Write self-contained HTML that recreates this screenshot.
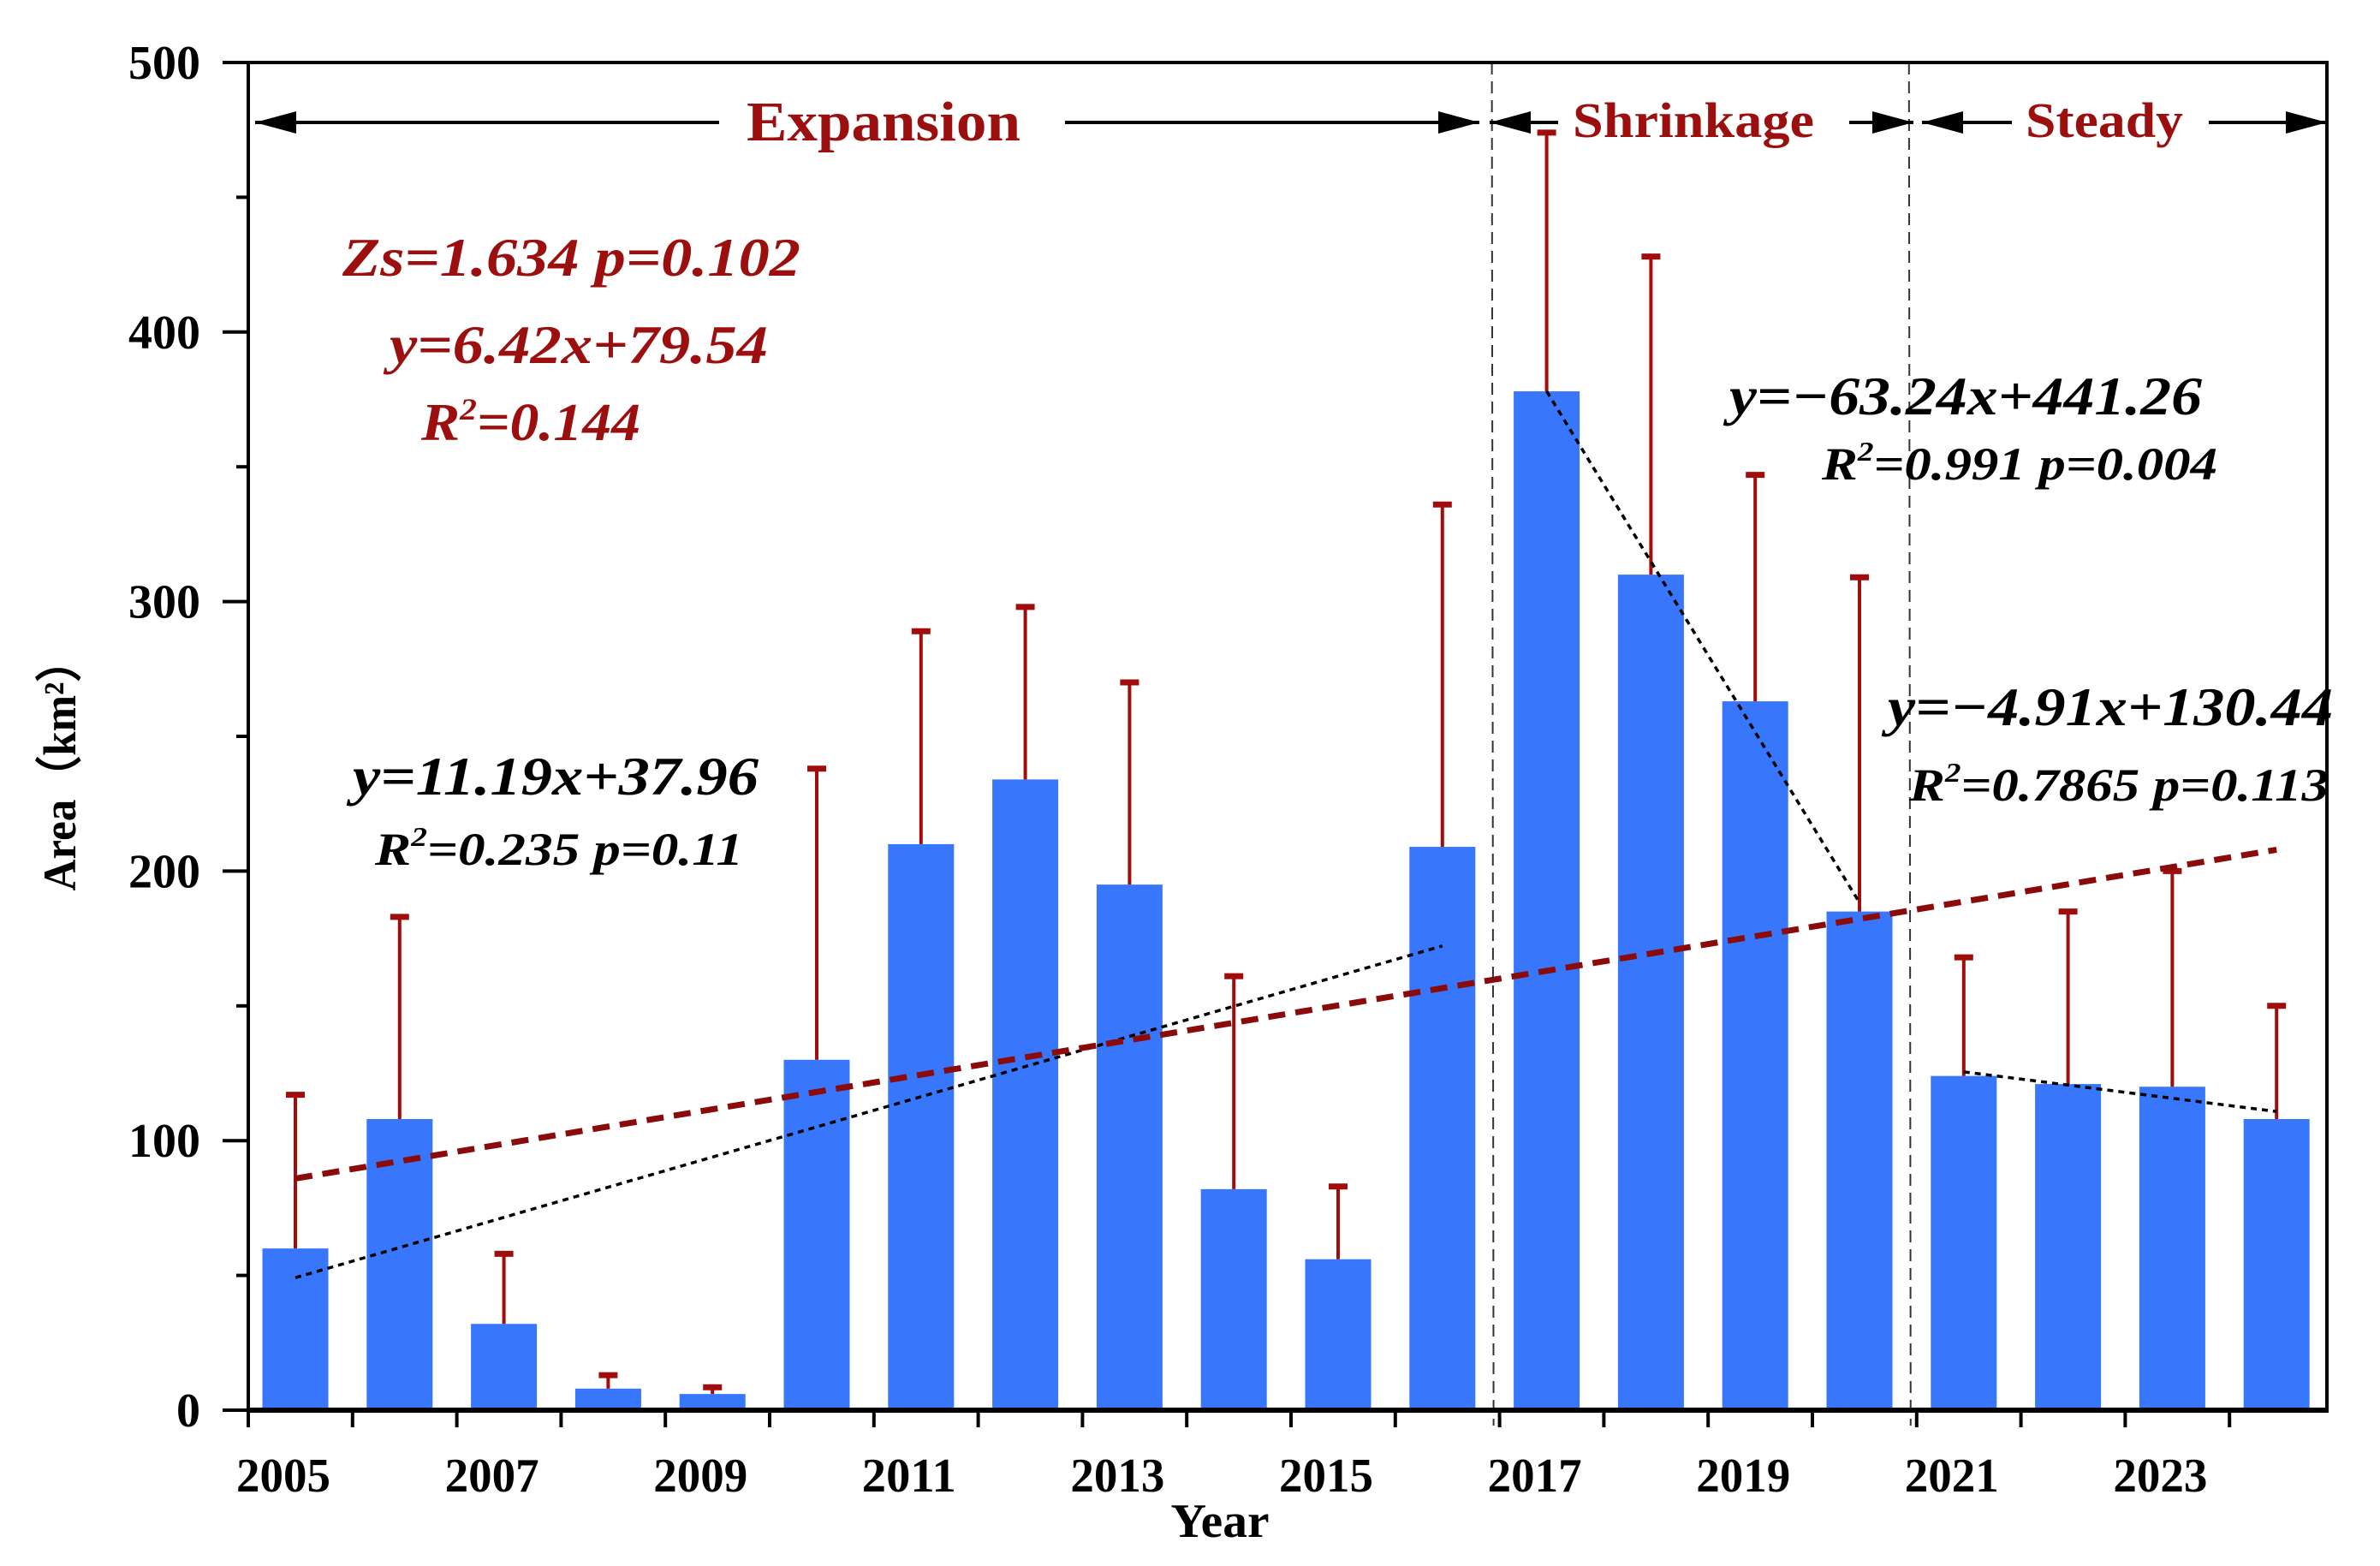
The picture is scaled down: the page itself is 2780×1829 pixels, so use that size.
<!DOCTYPE html>
<html><head><meta charset="utf-8"><style>
html,body{margin:0;padding:0;background:#fff}
svg{display:block}
text{font-family:"Liberation Serif",serif;font-weight:bold}
</style></head><body>
<svg id="chart" width="2780" height="1829" viewBox="0 0 2780 1829" xmlns="http://www.w3.org/2000/svg">
<g id="plot"></g>
</svg>
<script>
const years = [2005,2006,2007,2008,2009,2010,2011,2012,2013,2014,2015,2016,2017,2018,2019,2020,2021,2022,2023,2024];
const areas = [60,108,32,8,6,130,210,234,195,82,56,209,378,310,263,185,124,121,120,108];
const errTops = [117,183,58,13,8.5,238,289,298,270,161,83,336,474,428,347,309,168,185,200,150];
const yTicks = [0,100,200,300,400,500];
const xLabels = ["2005","2007","2009","2011","2013","2015","2017","2019","2021","2023"];
const overallTrend = {slope:6.42, intercept:79.54, from:1, to:20};
const expansionTrend = {slope:11.19, intercept:37.96, from:1, to:12};
const shrinkTrend = {slope:-63.24, intercept:441.26, from:1, to:4, offset:12};
const steadyTrend = {slope:-4.91, intercept:130.44, from:1, to:4, offset:16};

const NS="http://www.w3.org/2000/svg";
const g=document.getElementById('plot');
const X0=290, STEP=121.8, XR=2718, Y0=1647, K=3.148;
const yS=v=>Y0-K*v;
const xC=i=>345+STEP*i;
const xB=k=>X0+STEP*k;
function mk(tag,attrs,parent){const e=document.createElementNS(NS,tag);for(const a in attrs)e.setAttribute(a,attrs[a]);(parent||g).appendChild(e);return e;}

areas.forEach((v,i)=>{
  const r=mk('rect',{x:xC(i)-38.5,y:yS(v),width:77,height:Y0-yS(v),fill:'#3877fb'});
  
  
});
errTops.forEach((v,i)=>{
  const eg=mk('g',{stroke:'#a10d0d','stroke-width':4});
  
  
  mk('line',{x1:xC(i),x2:xC(i),y1:yS(areas[i]),y2:yS(v)},eg);
  mk('line',{x1:xC(i)-11,x2:xC(i)+11,y1:yS(v),y2:yS(v),'stroke-width':7},eg);
});
function trend(t,name,color,w,dash){
  const off=t.offset||0;
  const l=mk('line',{x1:xC(off+t.from-1),y1:yS(t.slope*t.from+t.intercept),x2:xC(off+t.to-1),y2:yS(t.slope*t.to+t.intercept),stroke:color,'stroke-width':w,'stroke-dasharray':dash});
  
  
}
trend(expansionTrend,'expansion-trend-line','#000',3.5,'7 6');
trend(shrinkTrend,'shrinkage-trend-line','#000',3.5,'7 6');
trend(steadyTrend,'steady-trend-line','#000',3.5,'7 6');
trend(overallTrend,'overall-trend-line','#8b0a0a',7,'20 12');

[12,16].forEach(k=>{
  const l=mk('line',{x1:xB(k)-9,x2:xB(k)-7,y1:73,y2:1665,stroke:'#333','stroke-width':2,'stroke-dasharray':'14 8'});
  
  
});

const ax=mk('g',{stroke:'#000'});


mk('line',{x1:X0,x2:X0,y1:73,y2:Y0,'stroke-width':4},ax);
mk('line',{x1:X0-2,x2:XR+2,y1:73,y2:73,'stroke-width':4},ax);
mk('line',{x1:XR,x2:XR,y1:73,y2:Y0,'stroke-width':4},ax);
mk('line',{x1:X0-2,x2:XR+2,y1:Y0,y2:Y0,'stroke-width':6},ax);
yTicks.forEach(v=>{mk('line',{x1:X0-30,x2:X0,y1:yS(v),y2:yS(v),'stroke-width':4},ax);
  if(v<500) mk('line',{x1:X0-14,x2:X0,y1:yS(v+50),y2:yS(v+50),'stroke-width':4},ax);});
for(let k=0;k<=19;k++) mk('line',{x1:xB(k),x2:xB(k),y1:Y0,y2:Y0+20,'stroke-width':4},ax);

yTicks.forEach(v=>{const s=String(v);const t=mk('text',{x:234,y:yS(v)+19,'text-anchor':'end','font-size':56,textLength:28*s.length,lengthAdjust:'spacingAndGlyphs'});t.textContent=s;
  
  });
xLabels.forEach((s,j)=>{const t=mk('text',{x:xC(2*j)-14,y:1742,'text-anchor':'middle','font-size':56,textLength:110,lengthAdjust:'spacingAndGlyphs'});t.textContent=s;
  
  });

function txt(x,y,s,size,color,name,len,anchor,italic){
  const t=mk('text',{x:x,y:y,'font-size':size,fill:color,'text-anchor':anchor||'start'});
  if(italic) t.setAttribute('font-style','italic');
  if(len){t.setAttribute('textLength',len);t.setAttribute('lengthAdjust','spacingAndGlyphs');}
  t.innerHTML=s;
  
  
  return t;
}
txt(1425,1795,'Year',56,'#000','x-axis-title',115,'middle');
const yt=txt(0,0,'Area（km²）',54,'#000','y-axis-title',295,'middle');
yt.setAttribute('transform','translate(88,893) rotate(-90)');
yt.setAttribute('font-family','"Liberation Serif","Noto Serif CJK SC",serif');

const red='#9b0f0f';
txt(1032,164,'Expansion',66,red,'expansion-label',320,'middle');
txt(1978,160,'Shrinkage',58,red,'shrinkage-label',282,'middle');
txt(2458,160,'Steady',58,red,'steady-label',184,'middle');
function arrow(x1,x2,dir,name){
  const ag=mk('g',{});
  
  
  const y=143;
  mk('line',{x1:x1,x2:x2,y1:y,y2:y,stroke:'#000','stroke-width':4},ag);
  const tip=dir<0?x1:x2;
  mk('polygon',{points:`${tip},${y} ${tip-dir*48},${y-13} ${tip-dir*48},${y+13}`,fill:'#000'},ag);
}
arrow(298,840,-1,'expansion-left-arrow');
arrow(1244,1728,1,'expansion-right-arrow');
arrow(1740,1820,-1,'shrinkage-left-arrow');
arrow(2160,2235,1,'shrinkage-right-arrow');
arrow(2245,2350,-1,'steady-left-arrow');
arrow(2580,2718,1,'steady-right-arrow');

txt(400,322,'Zs=1.634 p=0.102',64,red,'mk-test-annotation',535,'start',true);
txt(455,424,'y=6.42x+79.54',64,red,'overall-equation',442,'start',true);
txt(492,514,'R<tspan font-size="36" dy="-24">2</tspan><tspan dy="24">=0.144</tspan>',62,red,'overall-r2',256,'start',true);
txt(412,928,'y=11.19x+37.96',64,'#000','expansion-equation',474,'start',true);
txt(438,1010,'R<tspan font-size="32" dy="-22">2</tspan><tspan dy="22">=0.235 p=0.11</tspan>',54,'#000','expansion-r2',430,'start',true);
txt(2020,484,'y=−63.24x+441.26',64,'#000','shrinkage-equation',552,'start',true);
txt(2128,560,'R<tspan font-size="32" dy="-22">2</tspan><tspan dy="22">=0.991 p=0.004</tspan>',54,'#000','shrinkage-r2',462,'start',true);
txt(2205,847,'y=−4.91x+130.44',64,'#000','steady-equation',520,'start',true);
txt(2230,935,'R<tspan font-size="32" dy="-22">2</tspan><tspan dy="22">=0.7865 p=0.113</tspan>',54,'#000','steady-r2',490,'start',true);
</script>
</body></html>
